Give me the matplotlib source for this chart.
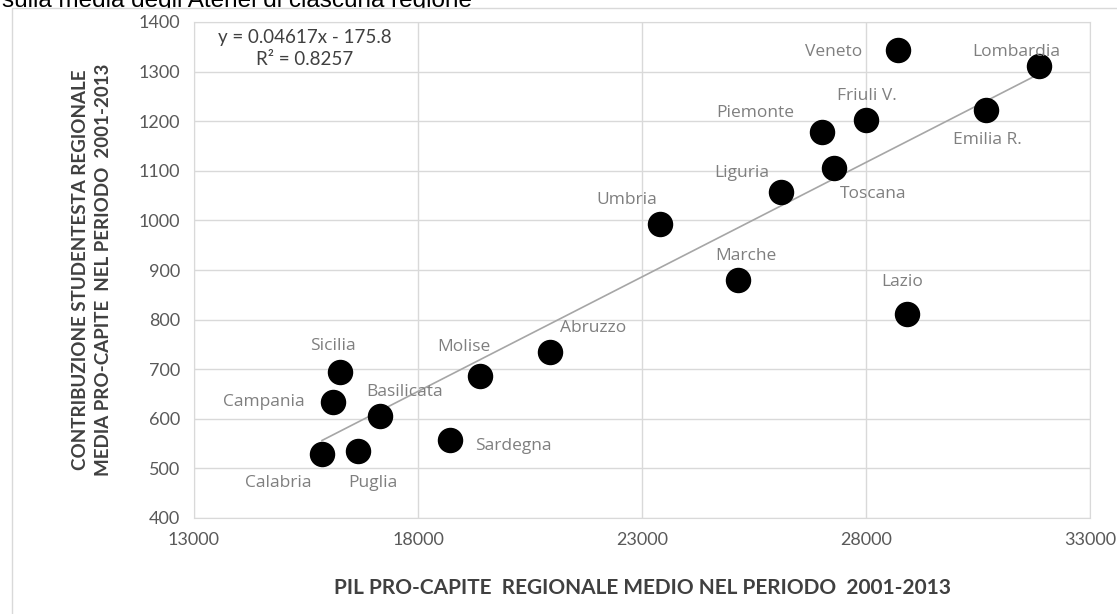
import numpy as np
import matplotlib.pyplot as plt
from matplotlib.patches import Rectangle

# dati
regioni = ['Veneto', 'Lombardia', 'Friuli V.', 'Emilia R.', 'Piemonte', 'Toscana',
           'Liguria', 'Umbria', 'Marche', 'Lazio', 'Abruzzo', 'Molise', 'Sicilia',
           'Campania', 'Basilicata', 'Sardegna', 'Puglia', 'Calabria']
pil = [28714, 31862, 28000, 30679, 27018, 27286,
       26103, 23402, 25143, 28915, 20946, 19384, 16259,
       16103, 17152, 18714, 16661, 15857]
contributo = [1344, 1311, 1202, 1223, 1178, 1106,
              1057, 993, 880, 811, 735, 686, 694,
              634, 606, 557, 535, 529]
pendenza = 0.04617
intercetta = -175.8
r2 = 0.8257
x_ticks = [13000, 18000, 23000, 28000, 33000]
y_ticks = [400, 500, 600, 700, 800, 900, 1000, 1100, 1200, 1300, 1400]

# spostamento delle etichette (pixel)
offset = {'Veneto': (-64, -2), 'Lombardia': (-23, 14), 'Friuli V.': (1, 24),
          'Emilia R.': (1, -30), 'Piemonte': (-67, 19), 'Toscana': (39, -26),
          'Liguria': (-39, 19), 'Umbria': (-33, 24), 'Marche': (8, 24),
          'Lazio': (-5, 32), 'Abruzzo': (43, 24), 'Molise': (-16, 29),
          'Sicilia': (-7, 26), 'Campania': (-69, 0), 'Basilicata': (25, 24),
          'Sardegna': (63, -6), 'Puglia': (15, -32), 'Calabria': (-44, -29)}

W, H = 1117, 614
fig = plt.figure(figsize=(W / 100, H / 100), dpi=100)

# titolo tagliato in alto (coperto in parte dal riquadro del grafico)
fig.text(2 / W, 1 - 7 / H, 'sulla media degli Atenei di ciascuna regione',
         fontsize=17.5, family='Liberation Sans', color='black', va='baseline',
         zorder=0)
fig.patches.append(Rectangle((12 / W, -0.1), 1.2, 1 - 8 / H + 0.1,
                             transform=fig.transFigure, facecolor='white',
                             edgecolor='#d9d9d9', lw=1, zorder=1))

ax = fig.add_axes([194 / W, 1 - 518 / H, (1090 - 194) / W, (518 - 22) / H])
ax.set_zorder(2)
ax.set_facecolor('none')

ax.scatter(pil, contributo, s=300, color='black', zorder=3)

xs = np.array([min(pil), max(pil)])
ax.plot(xs, pendenza * xs + intercetta, color='#a6a6a6', lw=1.2, zorder=2)

for nome, x, y in zip(regioni, pil, contributo):
    dx, dy = offset[nome]
    ax.annotate(nome, (x, y), xytext=(dx, dy), textcoords='offset pixels',
                ha='center', va='center', fontsize=12.5, color='#7f7f7f',
                family='Open Sans', zorder=4)

ax.text(0.124, 0.985, f'y = {pendenza}x - {abs(intercetta)}\nR² = {r2}',
        transform=ax.transAxes, ha='center', va='top', fontsize=13.5,
        color='#404040', family='Lato', linespacing=1.35)

ax.set_xlim(13000, 33000)
ax.set_ylim(400, 1400)
ax.set_xticks(x_ticks)
ax.set_yticks(y_ticks)
ax.grid(color='#d9d9d9', lw=1)
ax.set_axisbelow(True)
for s in ax.spines.values():
    s.set_color('#d9d9d9')
ax.tick_params(length=0, labelsize=13, labelcolor='#595959', pad=10)
for lab in ax.get_xticklabels() + ax.get_yticklabels():
    lab.set_family('Lato')

ax.set_xlabel('PIL PRO-CAPITE  REGIONALE MEDIO NEL PERIODO  2001-2013',
              fontsize=15, color='#404040', family='Lato', fontweight='bold',
              labelpad=22)
ax.set_ylabel('CONTRIBUZIONE STUDENTESTA REGIONALE\nMEDIA PRO-CAPITE  NEL PERIODO  2001-2013',
              fontsize=13.5, color='#404040', family='Lato', fontweight='bold',
              labelpad=19, linespacing=1.4)

fig.savefig('out.png', dpi=100)
